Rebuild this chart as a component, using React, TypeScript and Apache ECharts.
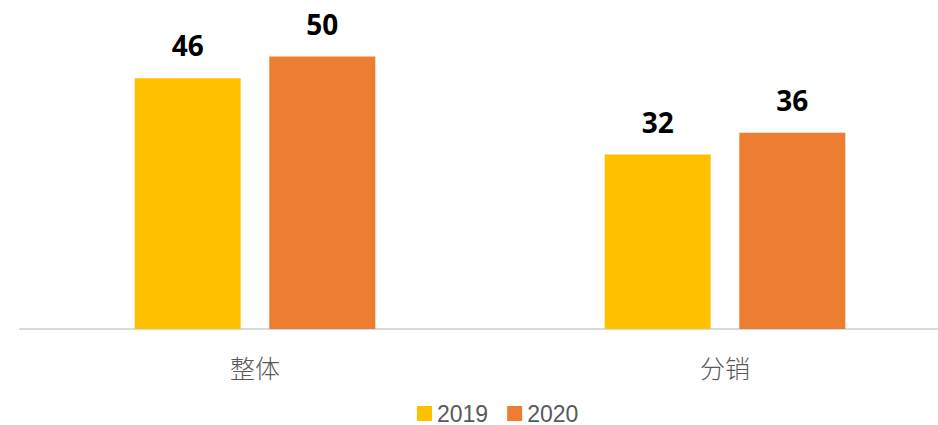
import React, { useEffect, useRef } from "react";
import * as echarts from "echarts";

const categories = ["整体", "分销"];
const seriesNames = ["2019", "2020"];
const values2019 = [46, 32];
const values2020 = [50, 36];
const colors = ["#FFC000", "#ED7D31"];

export default function App() {
  const ref = useRef<HTMLDivElement>(null);
  useEffect(() => {
    const chart = echarts.init(ref.current!, null, { renderer: "svg" });
    const label = {
      show: true,
      position: "top",
      distance: 19,
      color: "#000",
      fontFamily: "Open Sans",
      fontWeight: "bold",
      fontSize: 28,
    };
    chart.setOption({
      animation: false,
      grid: { left: 20, top: 2, width: 940, height: 327 },
      legend: {
        data: seriesNames,
        top: 397,
        left: 412,
        padding: [5, 5, 0, 5],
        itemWidth: 15,
        itemHeight: 15,
        itemGap: 19,
        icon: "rect",
        textStyle: { fontFamily: "Liberation Sans", fontSize: 23, lineHeight: 20, color: "#595959" },
      },
      xAxis: {
        type: "category",
        data: categories,
        axisLine: { lineStyle: { color: "#D9D9D9", width: 2 } },
        axisTick: { show: false },
        axisLabel: { fontSize: 25, color: "#595959", margin: 25, fontFamily: "Noto Sans CJK SC", fontWeight: 300 },
      },
      yAxis: {
        type: "value",
        min: 0,
        max: 60,
        show: false,
        splitLine: { show: false },
      },
      series: [
        { name: seriesNames[0], type: "bar", data: values2019, barWidth: 106, barGap: "27%", itemStyle: { color: colors[0] }, label },
        { name: seriesNames[1], type: "bar", data: values2020, barWidth: 106, itemStyle: { color: colors[1] }, label },
      ],
    });
    return () => chart.dispose();
  }, []);
  return (
    <div style={{ position: "absolute", left: 0, top: 0, width: 938, height: 425, overflow: "hidden" }}>
      <div ref={ref} style={{ width: 962, height: 425 }} />
    </div>
  );
}
